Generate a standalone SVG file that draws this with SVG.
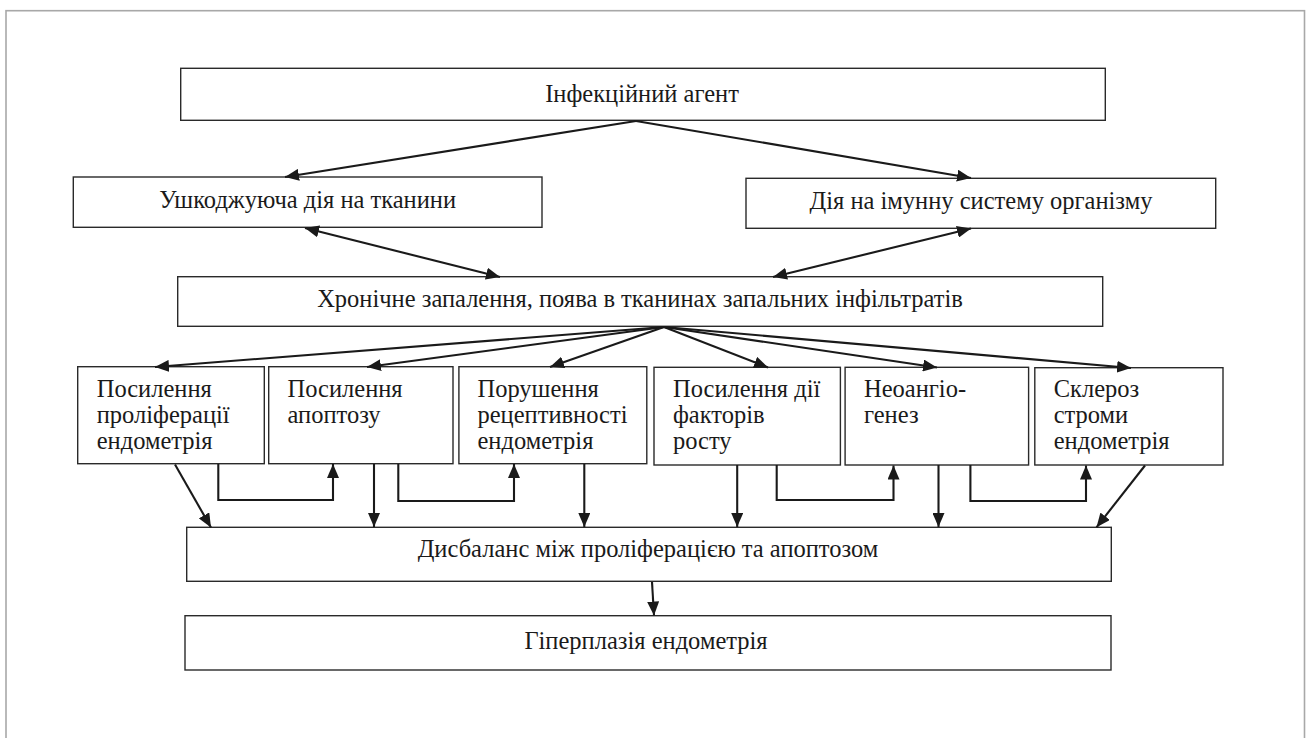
<svg xmlns="http://www.w3.org/2000/svg" width="1306" height="738" viewBox="0 0 1306 738">
<style>
  .box { fill: #ffffff; stroke: #2a2a2a; stroke-width: 1.4; }
  text { font-family: 'Liberation Serif', 'DejaVu Serif', serif; font-size: 24.5px; fill: #1a1a1a; }
  .c { text-anchor: middle; }
  .conn path { fill: none; stroke: #1a1a1a; stroke-width: 2.1; }
</style>
<defs>
  <marker id="ah" markerUnits="userSpaceOnUse" markerWidth="16" markerHeight="12" refX="14" refY="6" orient="auto-start-reverse" viewBox="0 0 16 12">
    <path d="M0,0 L14,6 L0,12 z" fill="#1a1a1a"/>
  </marker>
</defs>
<rect x="6" y="10.7" width="1298.5" height="760" fill="#ffffff" stroke="#a8a8a8" stroke-width="1.6"/>

<g id="n-agent"><rect class="box" x="180.7" y="68.3" width="924.6" height="52"/><text class="c" x="642" y="102">Інфекційний агент</text></g>
<g id="n-tissue"><rect class="box" x="73.3" y="177" width="468.7" height="50.3"/><text class="c" x="307.6" y="208">Ушкоджуюча дія на тканини</text></g>
<g id="n-immune"><rect class="box" x="746" y="178.3" width="469.7" height="50"/><text class="c" x="981" y="209">Дія на імунну систему організму</text></g>
<g id="n-chronic"><rect class="box" x="177.7" y="276.7" width="925" height="49.6"/><text class="c" x="640" y="307">Хронічне запалення, поява в тканинах запальних інфільтратів</text></g>

<g id="n-prolif"><rect class="box" x="77.7" y="366.7" width="186.6" height="97"/><text x="96.7" y="396.5">Посилення<tspan x="96.7" y="422.5">проліферації</tspan><tspan x="96.7" y="448.5">ендометрія</tspan></text></g>
<g id="n-apopt"><rect class="box" x="268.7" y="366.7" width="184.3" height="97"/><text x="287.5" y="396.5">Посилення<tspan x="287.5" y="422.5">апоптозу</tspan></text></g>
<g id="n-recept"><rect class="box" x="458.9" y="366.7" width="187.9" height="97"/><text x="477.5" y="396.5">Порушення<tspan x="477.5" y="422.5">рецептивності</tspan><tspan x="477.5" y="448.5">ендометрія</tspan></text></g>
<g id="n-growth"><rect class="box" x="654" y="367.3" width="186.4" height="97.7"/><text x="673" y="396.5">Посилення дії<tspan x="673" y="422.5">факторів</tspan><tspan x="673" y="448.5">росту</tspan></text></g>
<g id="n-angio"><rect class="box" x="845.1" y="367.3" width="183.5" height="97.7"/><text x="864" y="396.5">Неоангіо-<tspan x="864" y="422.5">генез</tspan></text></g>
<g id="n-scler"><rect class="box" x="1034.8" y="367.7" width="188.2" height="97.3"/><text x="1053.7" y="396.5">Склероз<tspan x="1053.7" y="422.5">строми</tspan><tspan x="1053.7" y="448.5">ендометрія</tspan></text></g>

<g id="n-imbalance"><rect class="box" x="186.7" y="527.3" width="924.6" height="54"/><text class="c" x="648" y="557">Дисбаланс між проліферацією та апоптозом</text></g>
<g id="n-hyper"><rect class="box" x="185" y="615.7" width="926" height="54.3"/><text class="c" x="646" y="649">Гіперплазія ендометрія</text></g>

<g id="connectors" class="conn">
  <path d="M636,121 L285,177" marker-end="url(#ah)"/>
  <path d="M636,121 L971,178" marker-end="url(#ah)"/>
  <path d="M305,228 L500,277" marker-start="url(#ah)" marker-end="url(#ah)"/>
  <path d="M971,228.5 L773,277" marker-start="url(#ah)" marker-end="url(#ah)"/>
  <path d="M664,327 L155,367" marker-end="url(#ah)"/>
  <path d="M664,327 L367,367" marker-end="url(#ah)"/>
  <path d="M664,327 L550,367" marker-end="url(#ah)"/>
  <path d="M664,327 L768,367.5" marker-end="url(#ah)"/>
  <path d="M664,327 L937,367.5" marker-end="url(#ah)"/>
  <path d="M664,327 L1131,368" marker-end="url(#ah)"/>
  <path d="M175,464.5 L211,527.5" marker-end="url(#ah)"/>
  <path d="M218.3,464 V500 H333 V464" marker-end="url(#ah)"/>
  <path d="M374,464 V527" marker-end="url(#ah)"/>
  <path d="M398.3,464 V501 H514 V464" marker-end="url(#ah)"/>
  <path d="M584.3,464 V527" marker-end="url(#ah)"/>
  <path d="M737.2,465 V527" marker-end="url(#ah)"/>
  <path d="M776.7,465 V500 H893.5 V465.5" marker-end="url(#ah)"/>
  <path d="M938.5,465 V527" marker-end="url(#ah)"/>
  <path d="M970.4,465 V501 H1086 V465.5" marker-end="url(#ah)"/>
  <path d="M1145,465.5 L1096.5,527.3" marker-end="url(#ah)"/>
  <path d="M652,582 L654,615.5" marker-end="url(#ah)"/>
</g>
</svg>
